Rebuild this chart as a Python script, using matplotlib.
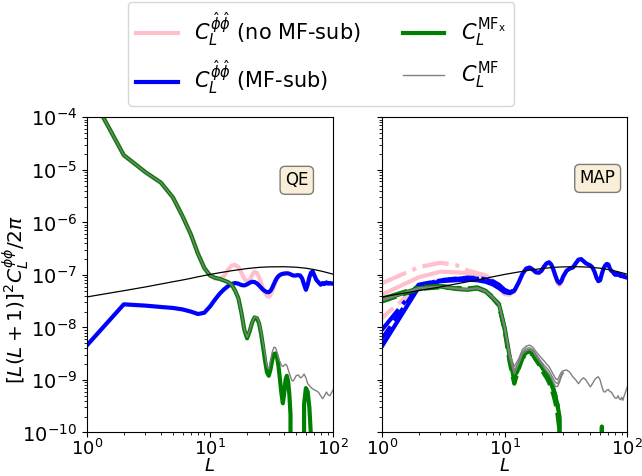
import matplotlib.pyplot as plt
import numpy as np

# multipole grids
L_qe = list(range(1, 51)) + list(range(52, 71, 2)) + list(range(73, 101, 3))
L_map = list(range(1, 31)) + list(range(32, 101, 2))
L_th = [1, 2, 3, 4, 5, 6, 7, 8, 10, 12, 15, 20, 25, 30, 40, 50, 60, 70, 80, 90, 100]

# fiducial lensing spectrum
cl_theory = [3.8e-8, 5.0e-8, 5.9e-8, 6.7e-8, 7.4e-8, 8.0e-8, 8.6e-8, 9.2e-8, 1.02e-7, 1.1e-7,
             1.2e-7, 1.32e-7, 1.39e-7, 1.42e-7, 1.43e-7, 1.4e-7, 1.34e-7, 1.26e-7, 1.18e-7,
             1.1e-7, 1.03e-7]

# ---- QE ----
qe_mfx = [3.8e-4, 1.9e-5, 9.0e-6, 5.7e-6, 3.0e-6, 1.3e-6, 5.9e-7, 2.5e-7, 1.35e-7, 9.8e-8,
          8.8e-8, 8.4e-8, 7.8e-8, 7.3e-8, 6.5e-8, 5.0e-8, 3.6e-8, 1.9e-8, 9.0e-9, 6.2e-9,
          8.5e-9, 1.25e-8, 1.55e-8, 1.5e-8, 1.2e-8, 7.5e-9, 4.2e-9, 2.3e-9, 1.4e-9, 1.2e-9,
          1.6e-9, 2.4e-9, 3.1e-9, 3.2e-9, 2.7e-9, 1.8e-9, 1.0e-9, 5.5e-10, 3.6e-10, 5.5e-10,
          1.0e-9, 1.2e-9, 9.5e-10, 5.5e-10, 2.2e-10, -1e-10, -2e-10, -3e-10, -3e-10, -2e-10,
          -2e-10, -1e-10, -5e-11, 3.5e-10, 7.0e-10, 6.0e-10, 3.0e-10, 8e-11, -1e-10, -2e-10,
          -2e-10, -3e-10, -2e-10, -1e-10, -2e-10, -3e-10, -2e-10, -1e-10, -2e-10, -2e-10]
qe_mf = [3.8e-4, 1.9e-5, 9.0e-6, 5.7e-6, 3.0e-6, 1.3e-6, 5.9e-7, 2.5e-7, 1.35e-7, 9.8e-8,
         8.8e-8, 8.4e-8, 7.8e-8, 7.3e-8, 6.5e-8, 5.0e-8, 3.6e-8, 1.9e-8, 9.2e-9, 6.5e-9,
         8.8e-9, 1.28e-8, 1.58e-8, 1.55e-8, 1.25e-8, 8.0e-9, 4.8e-9, 3.0e-9, 1.8e-9, 1.6e-9,
         2.4e-9, 3.4e-9, 4.2e-9, 4.1e-9, 3.4e-9, 2.6e-9, 2.2e-9, 1.9e-9, 1.8e-9, 1.9e-9,
         2.0e-9, 1.9e-9, 1.6e-9, 1.35e-9, 1.15e-9, 1.0e-9, 9.5e-10, 1.0e-9, 1.1e-9, 1.2e-9,
         1.25e-9, 1.1e-9, 1.15e-9, 1.3e-9, 1.1e-9, 8.5e-10, 7.8e-10, 7.2e-10, 6.8e-10, 6.5e-10,
         6.2e-10, 5.8e-10, 5.0e-10, 4.4e-10, 5.0e-10, 5.9e-10, 5.2e-10, 5.0e-10, 5.8e-10, 6.5e-10]
qe_sub = [4.5e-9, 2.75e-8, 2.6e-8, 2.45e-8, 2.35e-8, 2.2e-8, 2.0e-8, 1.8e-8, 1.9e-8, 2.5e-8,
          3.4e-8, 4.4e-8, 5.3e-8, 6.1e-8, 6.7e-8, 7.0e-8, 6.8e-8, 6.4e-8, 6.3e-8, 6.6e-8,
          7.1e-8, 7.4e-8, 7.3e-8, 6.9e-8, 6.3e-8, 5.7e-8, 5.2e-8, 4.9e-8, 4.7e-8, 4.7e-8,
          5.0e-8, 5.7e-8, 6.7e-8, 7.8e-8, 8.8e-8, 9.5e-8, 1.0e-7, 1.03e-7, 1.05e-7, 1.06e-7,
          1.07e-7, 1.07e-7, 1.07e-7, 1.05e-7, 1.03e-7, 1.0e-7, 9.8e-8, 9.7e-8, 9.7e-8, 9.8e-8,
          9.9e-8, 9.7e-8, 8.5e-8, 6.5e-8, 5.2e-8, 6.5e-8, 9.0e-8, 1.1e-7, 1.17e-7, 1.0e-7,
          8.0e-8, 7.2e-8, 6.5e-8, 7.0e-8, 6.7e-8, 7.2e-8, 6.8e-8, 7.0e-8, 6.8e-8, 6.9e-8]
qe_nosub = [3.8e-4, 1.9e-5, 9.0e-6, 5.7e-6, 3.0e-6, 1.3e-6, 5.9e-7, 2.6e-7, 1.4e-7, 9.6e-8,
            8.5e-8, 8.3e-8, 9.5e-8, 1.25e-7, 1.5e-7, 1.55e-7, 1.4e-7, 1.1e-7, 8.5e-8, 7.5e-8,
            8.0e-8, 1.0e-7, 1.15e-7, 1.1e-7, 9.0e-8, 7.0e-8, 5.5e-8, 4.5e-8, 4.0e-8, 3.8e-8,
            4.2e-8, 5.0e-8, 6.0e-8, 7.2e-8, 8.4e-8, 9.3e-8, 9.9e-8, 1.02e-7, 1.04e-7, 1.05e-7]

# ---- MAP ----
map_sub = [4.3e-9, 5.8e-8, 7.6e-8, 7.9e-8, 8.1e-8, 7.9e-8, 7.4e-8, 6.6e-8, 5.6e-8, 4.7e-8,
           4.5e-8, 5.0e-8, 7.1e-8, 1.05e-7, 1.32e-7, 1.38e-7, 1.26e-7, 1.12e-7, 1.10e-7, 1.20e-7,
           1.45e-7, 1.66e-7, 1.74e-7, 1.58e-7, 1.26e-7, 9.5e-8, 7.6e-8, 6.9e-8, 7.6e-8, 9.3e-8,
           1.2e-7, 1.32e-7, 1.38e-7, 1.66e-7, 1.95e-7, 2.0e-7, 1.82e-7, 1.66e-7, 1.58e-7, 1.51e-7,
           1.38e-7, 1.15e-7, 8.9e-8, 7.6e-8, 7.9e-8, 1.05e-7, 1.32e-7, 1.51e-7, 1.62e-7, 1.58e-7,
           1.32e-7, 1.2e-7, 1.15e-7, 1.05e-7, 1.0e-7, 1.07e-7, 1.0e-7, 1.02e-7, 9.5e-8, 9.8e-8,
           9.3e-8, 9.5e-8, 9.1e-8, 8.9e-8, 8.9e-8]
map_sub_b = [6.0e-9, 6.2e-8, 7.9e-8, 8.5e-8, 8.7e-8, 8.5e-8, 8.1e-8, 7.4e-8, 6.3e-8, 5.0e-8,
             4.6e-8, 5.0e-8]
map_sub_c = [8.9e-9, 6.5e-8, 7.8e-8, 8.3e-8, 8.9e-8, 8.7e-8, 8.3e-8, 7.6e-8, 6.5e-8, 5.2e-8,
             4.7e-8, 5.0e-8]
map_nosub = [4.2e-8, 9.0e-8, 1.15e-7, 1.12e-7, 1.08e-7, 1.03e-7, 9.5e-8, 7.8e-8, 5.8e-8, 4.3e-8,
             4.2e-8, 4.8e-8, 6.9e-8, 1.02e-7, 1.3e-7, 1.36e-7, 1.24e-7, 1.1e-7, 1.08e-7, 1.18e-7,
             1.42e-7, 1.63e-7, 1.7e-7, 1.55e-7, 1.22e-7, 9.0e-8, 7.0e-8, 6.3e-8, 7.2e-8, 9.0e-8]
map_nosub_b = [1.5e-8, 6.2e-8, 7.9e-8]
map_nosub_c = [6.9e-8, 1.4e-7, 1.7e-7, 1.55e-7, 1.22e-7, 1.08e-7, 9.8e-8, 8.0e-8, 6.0e-8, 4.5e-8,
               4.3e-8, 4.8e-8]
map_mfx = [3.3e-8, 5.6e-8, 6.0e-8, 5.4e-8, 5.2e-8, 5.5e-8, 4.8e-8, 3.7e-8, 2.8e-8, 1.0e-8,
           2.8e-9, 1.1e-9, 1.8e-9, 2.8e-9, 3.3e-9, 3.5e-9, 3.2e-9, 2.6e-9, 2.2e-9, 1.8e-9,
           1.5e-9, 1.26e-9, 1.05e-9, 8.3e-10, 6.5e-10, 4.8e-10, 3.3e-10, 2.0e-10, -1e-10, -2e-10,
           -2e-10, -2e-10, -3e-10, -2e-10, -2e-10, -2e-10, -3e-10, -2e-10, -2e-10, -2e-10,
           -2e-10, -2e-10, -1e-10, -1e-10, -1e-10, 1.3e-10, -1e-10, -2e-10, -2e-10, -2e-10,
           -2e-10, -2e-10, -3e-10, -2e-10, -2e-10, -2e-10, -2e-10, -3e-10, -2e-10, -2e-10,
           -2e-10, -2e-10, -2e-10, -2e-10, -2e-10]
map_mfx_b = [3.1e-8, 5.4e-8, 5.8e-8, 5.6e-8, 5.4e-8, 5.6e-8, 4.9e-8, 3.6e-8, 2.6e-8, 9.0e-9,
             2.2e-9, 8.5e-10, 1.6e-9, 2.6e-9, 3.1e-9, 3.3e-9, 3.0e-9, 2.4e-9, 2.0e-9, 1.6e-9,
             1.3e-9, 1.1e-9, 9.0e-10, 7.0e-10, 5.2e-10, 3.6e-10, 2.2e-10, 1.1e-10, -1e-10, -2e-10]
map_mfx_c = [3.5e-8, 5.8e-8, 6.2e-8, 5.7e-8, 5.5e-8, 5.8e-8, 5.0e-8, 3.8e-8, 2.7e-8, 9.5e-9,
             2.6e-9, 1.0e-9, 1.7e-9, 2.9e-9, 3.4e-9, 3.6e-9, 3.3e-9, 2.7e-9, 2.3e-9, 1.9e-9,
             1.6e-9, 1.3e-9, 1.1e-9, 8.8e-10, 6.8e-10, 5.0e-10, 3.4e-10, 1.7e-10, -1e-10, -2e-10]
map_mf = [3.3e-8, 5.6e-8, 6.0e-8, 5.4e-8, 5.2e-8, 5.5e-8, 4.8e-8, 3.7e-8, 2.8e-8, 1.1e-8,
          3.2e-9, 1.8e-9, 2.5e-9, 3.8e-9, 4.4e-9, 4.6e-9, 4.2e-9, 3.5e-9, 3.0e-9, 2.6e-9,
          2.3e-9, 2.0e-9, 1.8e-9, 1.5e-9, 1.26e-9, 1.07e-9, 1.0e-9, 1.2e-9, 1.4e-9, 1.5e-9,
          1.55e-9, 1.4e-9, 1.15e-9, 1.0e-9, 8.5e-10, 1.0e-9, 1.1e-9, 1.0e-9, 8.5e-10, 7.4e-10,
          8.5e-10, 1.0e-9, 1.1e-9, 1.15e-9, 1.0e-9, 7.5e-10, 6.0e-10, 5.9e-10, 6.4e-10, 6.6e-10,
          6.0e-10, 5.9e-10, 5.3e-10, 4.8e-10, 4.5e-10, 4.5e-10, 5.0e-10, 4.4e-10, 4.2e-10, 4.7e-10,
          4.1e-10, 4.9e-10, 5.6e-10, 6.6e-10, 7.4e-10]
map_mf_b = [3.2e-8, 5.5e-8, 5.9e-8, 5.5e-8, 5.3e-8, 5.6e-8, 4.9e-8, 3.7e-8, 2.7e-8, 1.0e-8,
            2.9e-9, 1.5e-9, 2.2e-9, 3.4e-9, 4.0e-9, 4.1e-9, 3.8e-9, 3.1e-9, 2.6e-9, 2.2e-9,
            1.9e-9, 1.7e-9, 1.5e-9, 1.25e-9, 1.05e-9, 9.0e-10, 8.5e-10, 1.0e-9, 1.25e-9, 1.4e-9]
map_mf_c = [3.4e-8, 5.7e-8, 6.1e-8, 5.6e-8, 5.4e-8, 5.7e-8, 5.0e-8, 3.8e-8, 2.7e-8, 9.8e-9,
            2.7e-9, 1.3e-9, 2.0e-9, 3.1e-9, 3.6e-9, 3.8e-9, 3.5e-9, 2.8e-9, 2.4e-9, 2.0e-9,
            1.7e-9, 1.5e-9, 1.3e-9, 1.1e-9, 9.0e-10, 7.5e-10, 7.5e-10, 9.0e-10, 1.15e-9, 1.35e-9]

lab_nosub = r'$C_L^{\hat{\phi}\hat{\phi}}$ (no MF-sub)'
lab_sub = r'$C_L^{\hat{\phi}\hat{\phi}}$ (MF-sub)'
lab_mfx = r'$C_L^{\mathrm{MF}_\mathrm{x}}$'
lab_mf = r'$C_L^{\mathrm{MF}}$'

fig = plt.figure(figsize=(6.42, 4.76), dpi=100)
ax1 = fig.add_axes([0.135, 0.0914, 0.3841, 0.6622])
ax2 = fig.add_axes([0.5946, 0.0914, 0.3826, 0.6622], sharey=ax1)

lw = 3
n = len(qe_nosub)
ax1.plot(L_qe[:n], qe_nosub, color='pink', lw=lw, label=lab_nosub)
ax1.plot(L_qe, qe_sub, color='blue', lw=lw, label=lab_sub)
ax1.plot(L_qe, qe_mfx, color='green', lw=lw, label=lab_mfx)
ax1.plot(L_qe, qe_mf, color='gray', lw=1, label=lab_mf)
ax1.plot(L_th, cl_theory, color='k', lw=0.9)

# MAP: three variants per spectrum (solid / dashed / dash-dot)
ax2.plot(L_map[:len(map_nosub)], map_nosub, color='pink', lw=lw)
ax2.plot(L_map[:len(map_nosub_b)], map_nosub_b, color='pink', lw=lw, ls='--')
ax2.plot(L_map[:len(map_nosub_c)], map_nosub_c, color='pink', lw=lw, ls='-.')
ax2.plot(L_map, map_sub, color='blue', lw=lw)
ax2.plot(L_map[:len(map_sub_b)], map_sub_b, color='blue', lw=lw, ls='--')
ax2.plot(L_map[:len(map_sub_c)], map_sub_c, color='blue', lw=lw, ls='-.')
ax2.plot(L_map, map_mfx, color='green', lw=lw)
ax2.plot(L_map[:len(map_mfx_b)], map_mfx_b, color='green', lw=lw, ls='--')
ax2.plot(L_map[:len(map_mfx_c)], map_mfx_c, color='green', lw=lw, ls='-.')
ax2.plot(L_map, map_mf, color='gray', lw=1)
ax2.plot(L_map[:len(map_mf_b)], map_mf_b, color='gray', lw=1)
ax2.plot(L_map[:len(map_mf_c)], map_mf_c, color='gray', lw=1)
ax2.plot(L_th, cl_theory, color='k', lw=0.9)

for ax in (ax1, ax2):
    ax.set_xscale('log')
    ax.set_yscale('log')
    ax.set_xlim(1, 100)
    ax.set_ylim(1e-10, 1e-4)
    ax.set_xlabel(r'$L$', fontsize=13, labelpad=-1)
    ax.tick_params(axis='y', labelsize=14)
    ax.tick_params(axis='x', labelsize=13, pad=1)
ax2.tick_params(labelleft=False)
ax1.set_ylabel(r'$[L(L+1)]^2C_L^{\phi\phi}/2\pi$', fontsize=14.5)
ax1.yaxis.set_label_coords(-0.225, 0.42)

box = dict(boxstyle='round', facecolor='wheat', alpha=0.5)
ax1.text(0.852, 0.80, 'QE', transform=ax1.transAxes, fontsize=12,
         ha='center', va='center', bbox=box)
ax2.text(0.879, 0.806, 'MAP', transform=ax2.transAxes, fontsize=12,
         ha='center', va='center', bbox=box)

fig.legend(loc='upper center', bbox_to_anchor=(0.5, 1.017), ncol=2, fontsize=15)

fig.savefig('out.png', dpi=100)
